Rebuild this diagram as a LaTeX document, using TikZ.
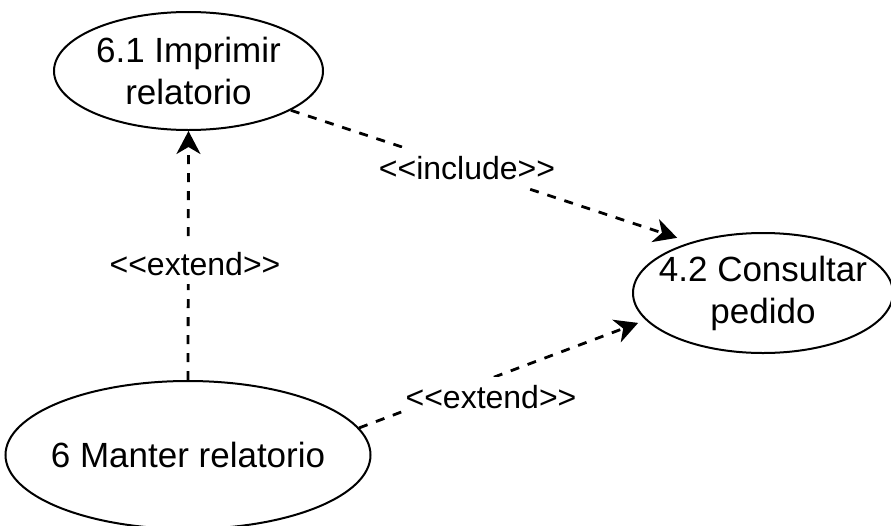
\documentclass[tikz,border=0pt]{standalone}
\usepackage{fontspec}
\setmainfont{Liberation Sans}
\usetikzlibrary{arrows.meta,shapes.geometric}
\begin{document}
\begin{tikzpicture}[x=1pt,y=-1pt,
  usecase/.style={draw,ellipse,line width=2pt,inner sep=-15pt,align=center,
    font=\fontsize{35}{42}\selectfont},
  dep/.style={draw,line width=2.8pt,dash pattern=on 9pt off 9pt,
    -{Stealth[length=23pt,width=24pt,inset=7pt]}},
  lbl/.style={fill=white,inner xsep=1pt,inner ysep=0pt,minimum height=40pt,
    font=\fontsize{32}{38}\selectfont}]
\useasboundingbox (0,0) rectangle (891,525);
\clip (0,0) rectangle (891,525);
\fill[white] (0,0) rectangle (891,525);
\node[usecase,minimum width=269pt,minimum height=118pt] (imp) at (188.5,71) {6.1 Imprimir\\relatorio};
\node[usecase,minimum width=260pt,minimum height=120pt] (cons) at (763,293) {4.2 Consultar\\pedido};
\node[usecase,minimum width=365pt,minimum height=148pt] (man) at (188,455) {6 Manter relatorio};
\draw[dep,shorten >=14pt] (imp.-21) -- (cons.145);
\draw[dep] (man.north) -- (imp.south);
\draw[dep,shorten >=8pt] (man.9) -- (cons.193);
\node[lbl] (l1) at (467,168) {<{}<include>{}>};
\node[lbl] (l2) at (195,264) {<{}<extend>{}>};
\node[lbl] (l3) at (491,397) {<{}<extend>{}>};
\end{tikzpicture}
\end{document}
